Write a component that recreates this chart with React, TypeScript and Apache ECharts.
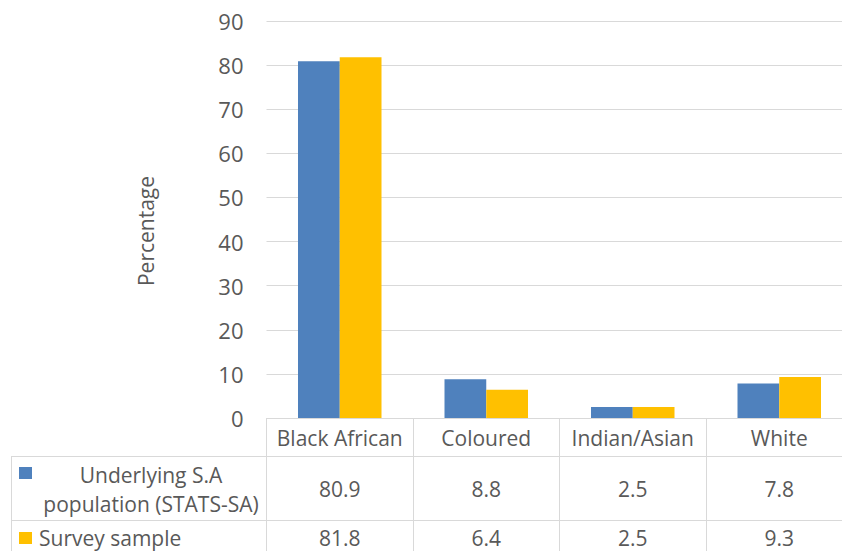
import React, { useEffect, useRef } from "react";
import * as echarts from "echarts";

const categories = ["Black African", "Coloured", "Indian/Asian", "White"];
const populationValues = [80.9, 8.8, 2.5, 7.8];
const surveyValues = [81.8, 6.4, 2.5, 9.3];
const seriesNames = ["Underlying S.A\npopulation (STATS-SA)", "Survey sample"];
const seriesColors = ["#4f81bd", "#ffc000"];
const yAxisTitle = "Percentage";
const yMin = 0;
const yMax = 90;
const yInterval = 10;

export default function App() {
  const ref = useRef<HTMLDivElement>(null);
  useEffect(() => {
    const chart = echarts.init(ref.current!, null, { renderer: "svg" });
    const font = "'Open Sans', sans-serif";
    const textColor = "#595959";
    const lineColor = "#d9d9d9";
    const gridLeft = 266.5;
    const gridWidth = 586;
    const colW = gridWidth / categories.length;
    const row1Y = 489;
    const row2Y = 538;
    const tableRows = [populationValues, surveyValues];
    const rowYs = [row1Y, row2Y];

    const graphic: any[] = [
      { type: "line", shape: { x1: 11, y1: 456.5, x2: 842, y2: 456.5 }, style: { stroke: lineColor, lineWidth: 1 } },
      { type: "line", shape: { x1: 11, y1: 520.5, x2: 842, y2: 520.5 }, style: { stroke: lineColor, lineWidth: 1 } },
      { type: "line", shape: { x1: 11.5, y1: 456.5, x2: 11.5, y2: 551 }, style: { stroke: lineColor, lineWidth: 1 } },
      {
        type: "text",
        x: 146,
        y: 231,
        rotation: Math.PI / 2,
        style: { text: yAxisTitle, fill: textColor, font: `21px ${font}`, textAlign: "center", textVerticalAlign: "middle" },
      },
      { type: "rect", shape: { x: 19, y: 467, width: 13, height: 12 }, style: { fill: seriesColors[0] } },
      { type: "rect", shape: { x: 19, y: 532, width: 13, height: 12 }, style: { fill: seriesColors[1] } },
      {
        type: "text",
        x: 151,
        y: row1Y,
        style: { text: seriesNames[0], fill: textColor, font: `21px ${font}`, textAlign: "center", textVerticalAlign: "middle", lineHeight: 29 },
      },
      {
        type: "text",
        x: 39,
        y: row2Y,
        style: { text: seriesNames[1], fill: textColor, font: `21px ${font}`, textAlign: "left", textVerticalAlign: "middle" },
      },
    ];
    tableRows.forEach((vals, r) => {
      vals.forEach((v, i) => {
        graphic.push({
          type: "text",
          x: gridLeft + colW * (i + 0.5),
          y: rowYs[r],
          style: { text: String(v), fill: textColor, font: `21px ${font}`, textAlign: "center", textVerticalAlign: "middle" },
        });
      });
    });

    chart.setOption({
      animation: false,
      backgroundColor: "#ffffff",
      grid: { left: gridLeft, top: 21, width: gridWidth, height: 397, outerBoundsMode: "none", containLabel: false },
      xAxis: {
        type: "category",
        data: categories,
        axisLine: { show: true, lineStyle: { color: lineColor } },
        axisTick: { show: true, interval: 0, length: 133, lineStyle: { color: lineColor } },
        axisLabel: { show: true, interval: 0, margin: 9, fontSize: 21, color: textColor, fontFamily: font },
      },
      yAxis: {
        type: "value",
        min: yMin,
        max: yMax,
        interval: yInterval,
        axisLine: { show: false },
        axisTick: { show: false },
        splitLine: { show: true, lineStyle: { color: lineColor } },
        axisLabel: { margin: 23, fontSize: 22, color: textColor, fontFamily: font },
      },
      series: [
        {
          type: "bar",
          name: seriesNames[0].replace("\n", " "),
          data: populationValues,
          itemStyle: { color: seriesColors[0] },
          barGap: "0%",
          barCategoryGap: "43%",
        },
        {
          type: "bar",
          name: seriesNames[1],
          data: surveyValues,
          itemStyle: { color: seriesColors[1] },
          barGap: "0%",
          barCategoryGap: "43%",
        },
      ],
      graphic,
    });
    return () => chart.dispose();
  }, []);
  return (
    <div
      ref={ref}
      style={{ position: "fixed", left: 0, top: 0, width: 842, height: 551, overflow: "hidden" }}
    />
  );
}
